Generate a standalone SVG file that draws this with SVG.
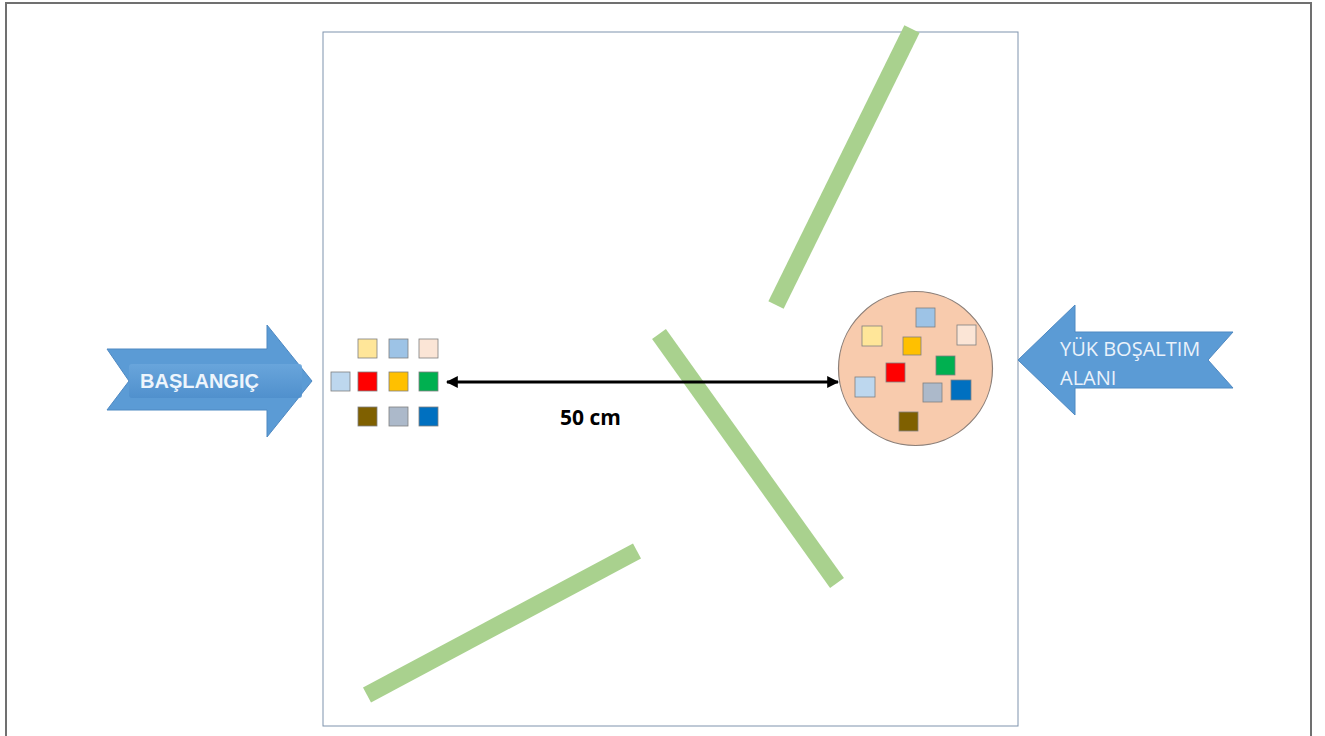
<svg xmlns="http://www.w3.org/2000/svg" width="1325" height="736" viewBox="0 0 1325 736">
<defs>
<style>
.bar{stroke:#a9d18e;stroke-width:17;stroke-linecap:butt;fill:none}
.sq{stroke:#7f7f7f;stroke-width:0.8}
.arr{fill:#5b9bd5;stroke:#4f89c2;stroke-width:1}
.lbl{font-family:"Liberation Sans",Arial,sans-serif;fill:#ffffff}
.lbl2{font-family:"Open Sans","Liberation Sans",sans-serif;fill:#eaf2fb;font-size:20px}
</style>
<marker id="ah" viewBox="0 0 10 10" refX="9" refY="5" markerWidth="4" markerHeight="4" orient="auto-start-reverse">
<path d="M0,0 L10,5 L0,10 z" fill="#000"/>
</marker>
<linearGradient id="band" x1="0" y1="0" x2="0" y2="1">
<stop offset="0" stop-color="#6aa6dc"/>
<stop offset="1" stop-color="#4f8fcc"/>
</linearGradient>
</defs>
<rect x="0" y="0" width="1325" height="736" fill="#ffffff"/>
<path d="M6,740 V3 H1311 V740" fill="none" stroke="#707070" stroke-width="2"/>
<rect id="field" x="323" y="32" width="695" height="694" fill="none" stroke="#7f93ad" stroke-width="1"/>
<g id="walls">
<line class="bar" x1="912" y1="29" x2="776" y2="305"/>
<line class="bar" x1="659" y1="334" x2="837" y2="583"/>
<line class="bar" x1="637" y1="551" x2="367" y2="695"/>
</g>
<g id="start">
<path class="arr" d="M107,349 H267 V325 L312,381 L267,437 V410 H107 L129,381 Z"/>
<rect x="129" y="364" width="173" height="34" rx="3" fill="url(#band)" opacity="0.9"/>
<text class="lbl" x="140" y="388" font-size="20" font-weight="bold" style="fill:#eef5fc">BAŞLANGIÇ</text>
</g>
<g id="source">
<rect class="sq" x="358" y="339" width="19" height="19" fill="#ffe699"/>
<rect class="sq" x="389" y="339" width="19" height="19" fill="#9dc3e6"/>
<rect class="sq" x="419" y="339" width="19" height="19" fill="#fbe5d6"/>
<rect class="sq" x="331" y="372" width="19" height="19" fill="#bdd7ee"/>
<rect class="sq" x="358" y="372" width="19" height="19" fill="#ff0000"/>
<rect class="sq" x="389" y="372" width="19" height="19" fill="#ffc000"/>
<rect class="sq" x="419" y="372" width="19" height="19" fill="#00b050"/>
<rect class="sq" x="358" y="407" width="19" height="19" fill="#7f6000"/>
<rect class="sq" x="389" y="407" width="19" height="19" fill="#acb9ca"/>
<rect class="sq" x="419" y="407" width="19" height="19" fill="#0070c0"/>
</g>
<g id="connectors">
<line x1="447" y1="382" x2="838" y2="382" stroke="#000" stroke-width="3" marker-start="url(#ah)" marker-end="url(#ah)"/>
<text x="560" y="425" font-family="Open Sans,'Liberation Sans',sans-serif" font-weight="bold" font-size="21" fill="#000">50 cm</text>
</g>
<g id="target">
<circle cx="915.5" cy="368.5" r="77" fill="#f8cbad" stroke="#8c7f78" stroke-width="1.2"/>
<rect class="sq" x="916" y="308" width="19" height="19" fill="#9dc3e6"/>
<rect class="sq" x="862" y="326" width="20" height="20" fill="#ffe699"/>
<rect class="sq" x="957" y="325" width="19" height="20" fill="#fbe5d6"/>
<rect class="sq" x="903" y="337" width="18" height="18" fill="#ffc000"/>
<rect class="sq" x="936" y="356" width="19" height="19" fill="#00b050"/>
<rect class="sq" x="886" y="363" width="19" height="19" fill="#ff0000"/>
<rect class="sq" x="855" y="377" width="20" height="20" fill="#bdd7ee"/>
<rect class="sq" x="923" y="383" width="19" height="19" fill="#acb9ca"/>
<rect class="sq" x="951" y="380" width="20" height="20" fill="#0070c0"/>
<rect class="sq" x="899" y="412" width="19" height="19" fill="#7f6000"/>
</g>
<g id="unload">
<path class="arr" d="M1018,360 L1075,305 V332 H1233 L1208,360 L1233,388 H1075 V415 Z"/>
<text class="lbl2" x="1060" y="356">YÜK BOŞALTIM</text>
<text class="lbl2" x="1060" y="385">ALANI</text>
</g>
</svg>
